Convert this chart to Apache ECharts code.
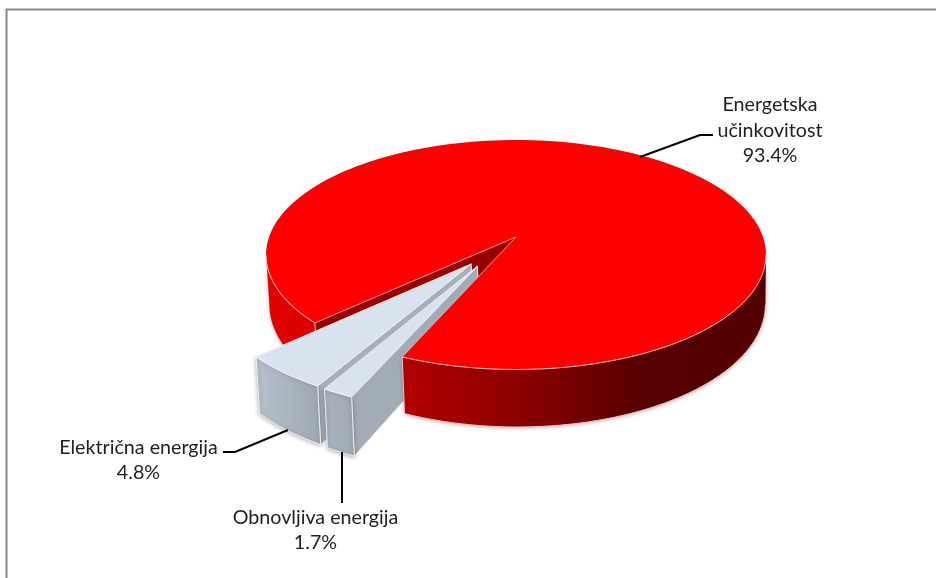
<!DOCTYPE html>
<html>
<head>
<meta charset="UTF-8">
<title>Pie</title>
<script src="https://cdn.jsdelivr.net/npm/echarts@6/dist/echarts.min.js"></script>
<style>
html,body{margin:0;padding:0;background:#fff;}
#main{width:936px;height:578px;}
</style>
</head>
<body>
<div id="main"></div>
<script>
// clockwise from the left cut edge of the big slice
var categories = ['Energetska\nučinkovitost', 'Obnovljiva energija', 'Električna energija'];
var values = [93.4, 1.7, 4.8];

// fake 3d: circle on a plane, projected with a bit of perspective
var cx = 516, cy = 237, R = 247, S = 112, k = 0.1547, H = 48.6;
var startDeg = 46.7;
var leftDeg = 81.1, rightDeg = 278.9;
var explode = [[0, 0], [-0.15, 0.25], [-0.175, 0.232]];
var total = values.reduce(function (a, b) { return a + b; }, 0);

function project(u, v, h) {
	var w = 1 - k * v;
	var x = cx + R * u / w;
	return [x + h / H * 0.008 * (690 - x), cy + (S * v + h) / w];
}
function rim(deg, off, h) {
	var a = deg * Math.PI / 180;
	return project(-Math.sin(a) + off[0], Math.cos(a) + off[1], h);
}
function arc(d0, d1, off, h) {
	var pts = [], n = Math.max(2, Math.ceil(Math.abs(d1 - d0) / 2));
	for (var i = 0; i <= n; i++) pts.push(rim(d0 + (d1 - d0) * i / n, off, h));
	return pts;
}
function wall(d0, d1, off) {
	return arc(d0, d1, off, 0).concat(arc(d1, d0, off, H));
}
function grad(stops) {
	return new echarts.graphic.LinearGradient(0, 0, 1, 0, stops.map(function (s) {
		return { offset: s[0], color: s[1] };
	}));
}
function poly(points, fill, z2, stroke, shadow) {
	var style = { fill: fill, stroke: stroke || null, lineWidth: stroke ? 1 : 0 };
	if (shadow) {
		style.shadowBlur = 4;
		style.shadowColor = 'rgba(0,0,0,0.3)';
		style.shadowOffsetY = 1;
	}
	return { type: 'polygon', z2: z2, shape: { points: points }, style: style };
}
function line(points, stroke, z2, width) {
	return { type: 'polyline', z2: z2, shape: { points: points }, style: { fill: null, stroke: stroke, lineWidth: width } };
}
function label(name, value, x, y) {
	return {
		type: 'text', z2: 20,
		style: {
			x: x, y: y, text: name + '\n' + value.toFixed(1) + '%',
			font: '19.7px Lato', fill: '#1f1f1f', align: 'center', verticalAlign: 'middle', lineHeight: 25.5
		}
	};
}

function renderSlice(params, api) {
	var i = params.dataIndex, before = 0;
	for (var j = 0; j < i; j++) before += values[j];
	var d0 = startDeg + before / total * 360;
	var d1 = d0 + api.value(0) / total * 360;
	var off = explode[i], c = [];
	var apex = project(off[0], off[1], 0), apexLow = project(off[0], off[1], H);

	if (i === 0) {
		var end0 = rim(d0, off, 0), end1 = rim(d1, off, 0);
		// left bit of the side and the cut face go behind the grey slices
		c.push(poly(wall(d0, leftDeg, off), grad([[0, '#e40000'], [1, '#d80000']]), 1, null, true));
		c.push(poly([apex, end0, rim(d0, off, H), apexLow], '#960000', 2));
		c.push(line([end0, rim(d0, off, H)], '#f4b4b4', 3, 1));
		c.push(poly(wall(rightDeg, d1, off), grad([[0, '#b40000'], [0.35, '#880000'], [0.65, '#580000'], [1, '#520000']]), 8, null, true));
		c.push(line(arc(rightDeg, d1, off, H), '#d8d0d0', 8, 1));
		c.push(poly([apex].concat(arc(d0, d1, off, 0)), '#ff0000', 9));
		c.push(line(arc(rightDeg, d1, off, 0), '#ffc8c8', 10, 1));
		c.push(line(arc(leftDeg, d0, off, 0), '#ffc8c8', 10, 1));
		c.push(line([end0, apex, end1], '#ffb4b4', 10, 0.8));
		c.push(line([end1, rim(d1, off, H)], '#f8c0c0', 10, 1));
		c.push(line([[640, 157], [700, 135], [713, 135]], '#000', 12, 2));
		c.push(label(categories[i], values[i], 770, 130.5));
	} else {
		// grey slices: the visible cut face is always the one at d0
		var z = i === 2 ? 4 : 5;
		var e = '#eef1f5';
		c.push(poly([apex, rim(d0, off, 0), rim(d0, off, H), apexLow], i === 1 ? '#a2acb6' : '#a6b0ba', z, e));
		c.push(poly(wall(d0, d1, off), i === 1
			? grad([[0, '#a9b3bd'], [1, '#a0aab4']])
			: grad([[0, '#b6c0cc'], [1, '#9fa9b4']]), z, e, true));
		c.push(poly([apex].concat(arc(d0, d1, off, 0)), '#d9e3ef', z, e));
		if (i === 1) {
			c.push(line([[342, 452], [342, 503]], '#000', 12, 2));
			c.push(label(categories[i], values[i], 315.5, 530));
		} else {
			c.push(line([[288, 430], [235, 452], [223, 452]], '#000', 12, 2));
			c.push(label(categories[i], values[i], 138.5, 460));
		}
	}
	return { type: 'group', children: c };
}

var myChart = echarts.init(document.getElementById('main'));
var option = {
	animation: false,
	backgroundColor: '#fff',
	graphic: [
		{ type: 'line', shape: { x1: 6, y1: 9.5, x2: 936, y2: 9.5 }, style: { stroke: '#888', lineWidth: 2 } },
		{ type: 'line', shape: { x1: 6.5, y1: 9, x2: 6.5, y2: 578 }, style: { stroke: '#888', lineWidth: 2 } }
	],
	series: [{
		type: 'custom',
		coordinateSystem: 'none',
		renderItem: renderSlice,
		data: values
	}]
};
myChart.setOption(option);
</script>
</body>
</html>
